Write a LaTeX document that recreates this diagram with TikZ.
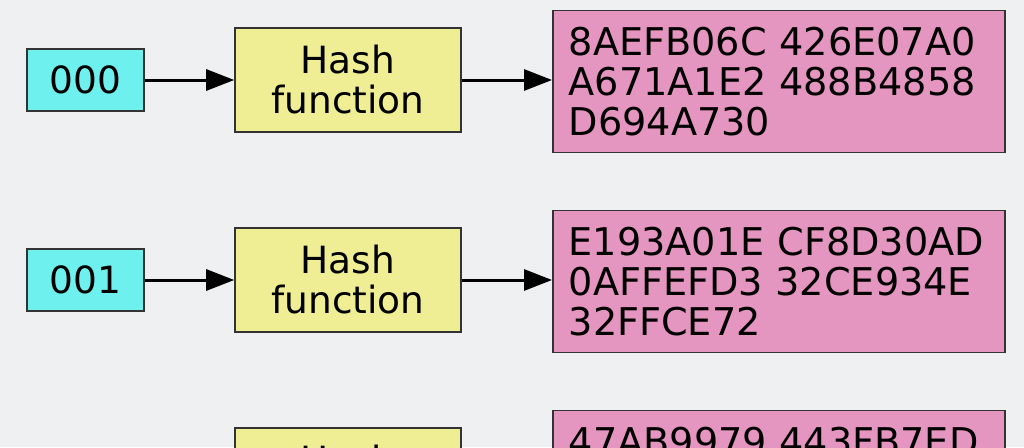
\documentclass[tikz,border=0pt]{standalone}
\usepackage{fontspec}
\setmainfont{DejaVu Sans}
\usetikzlibrary{arrows.meta,positioning}
\definecolor{bgcol}{RGB}{239,240,242}
\definecolor{edgecol}{RGB}{51,51,51}
\definecolor{seedcol}{RGB}{110,240,238}
\definecolor{hashcol}{RGB}{240,238,148}
\definecolor{digestcol}{RGB}{228,150,192}
\tikzset{
	seedbox/.style={draw=edgecol, line width=1.6pt, fill=seedcol, minimum width=117pt, minimum height=62pt, inner sep=0pt},
	hashbox/.style={draw=edgecol, line width=1.6pt, fill=hashcol, minimum width=226pt, minimum height=104pt, inner sep=0pt, align=center},
	digestbox/.style={draw=edgecol, line width=1.6pt, fill=digestcol, minimum width=452pt, minimum height=142pt, inner xsep=16pt, inner ysep=0pt, text width=420pt, align=left, anchor=north west, font=\fontsize{38.2}{40}\selectfont},
	flow/.style={line width=3pt, -{Triangle[length=28pt,width=21pt]}}
}
\begin{document}
\begin{tikzpicture}[x=1pt, y=-1pt, every node/.style={font=\fontsize{37.5}{40}\selectfont}]
			%%%%% START %%%%%
			
			\useasboundingbox (0, 0) rectangle (1024, 447);
			\fill[bgcol] (0, 0) rectangle (1024, 447);
			\clip (0, 0) rectangle (1024, 447);
			
			% first row
			\node[seedbox] (seedA) at (85.5, 80) {000};
			\node[hashbox] (hashA) at (348, 80) {Hash\\function};
			\node[digestbox] (digestA) at (552, 9.5) {8AEFB06C 426E07A0\\A671A1E2 488B4858\\D694A730};
			\draw[flow] (seedA) -- (hashA);
			\draw[flow] (hashA) -- (hashA -| digestA.west);
			
			% second row
			\node[seedbox] (seedB) at (85.5, 280) {001};
			\node[hashbox] (hashB) at (348, 280) {Hash\\function};
			\node[digestbox] (digestB) at (552, 209.5) {E193A01E CF8D30AD\\0AFFEFD3 32CE934E\\32FFCE72};
			\draw[flow] (seedB) -- (hashB);
			\draw[flow] (hashB) -- (hashB -| digestB.west);
			
			% third row, cut off
			\node[hashbox] (hashC) at (348, 480) {Hash\\function};
			\node[digestbox] (digestC) at (552, 409.5) {47AB9979 443FB7ED\\\mbox{}\\\mbox{}};
			
			%%%%% END %%%%%
\end{tikzpicture}
\end{document}
